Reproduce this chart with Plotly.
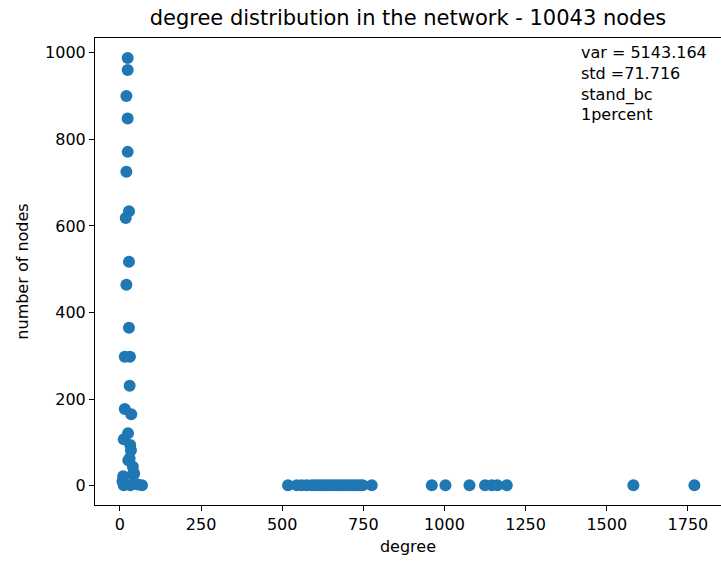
import plotly.graph_objects as go

# degree values (x) and number of nodes with that degree (y)
low_degree = [24, 24, 20, 24, 24, 20, 28, 18, 28, 20, 28, 15, 31, 30, 15, 35,
              25, 12, 32, 34, 26, 30, 40, 44, 10, 38, 12, 32, 68, 55, 45, 8]
low_count = [988, 960, 900, 848, 771, 725, 634, 618, 517, 464, 365, 298, 298, 231, 177, 165,
             121, 107, 94, 82, 59, 63, 44, 28, 22, 25, 1, 1, 1, 3, 6, 10]
high_degree = [518, 545, 560, 575, 590, 600, 610, 620, 630, 640, 650, 660, 670, 680,
               690, 700, 710, 720, 730, 740, 748, 776, 961, 1003, 1077, 1125, 1146,
               1163, 1192, 1582, 1770]
high_count = [1] * len(high_degree)

degree = low_degree + high_degree
count = low_count + high_count

title_text = "degree distribution in the network - 10043 nodes"
info_lines = ["var = 5143.164", "std =71.716", "stand_bc", "1percent"]
x_ticks = [0, 250, 500, 750, 1000, 1250, 1500, 1750]
y_ticks = [0, 200, 400, 600, 800, 1000]

FONT = "DejaVu Sans"

fig = go.Figure()
fig.add_trace(go.Scatter(
    x=degree, y=count, mode="markers",
    marker=dict(color="#1f77b4", size=12, line=dict(width=0)),
    showlegend=False,
))

fig.update_layout(
    width=721, height=562,
    margin=dict(l=95, r=0, t=38, b=57, pad=0),
    paper_bgcolor="white", plot_bgcolor="white",
    font=dict(family=FONT, color="black", size=16),
    title=dict(text=title_text, x=0.5, xref="paper", xanchor="center",
               y=1 - 18 / 562, yref="container", yanchor="middle",
               font=dict(size=21, family=FONT, color="black")),
    xaxis=dict(range=[-76.7, 1852], tickvals=x_ticks, ticks="outside", ticklen=5,
               tickcolor="black", showline=True, linecolor="black", linewidth=1,
               mirror=True, showgrid=False, zeroline=False,
               title=dict(text="degree", font=dict(size=16), standoff=7),
               tickfont=dict(size=16)),
    yaxis=dict(range=[-44.6, 1034], tickvals=y_ticks, ticks="outside", ticklen=5,
               tickcolor="black", showline=True, linecolor="black", linewidth=1,
               mirror=False, showgrid=False, zeroline=False,
               title=dict(text="number of nodes", font=dict(size=16), standoff=12),
               tickfont=dict(size=16)),
)

fig.add_annotation(
    text="<br>".join(info_lines), xref="paper", yref="paper",
    x=(579 - 95) / 626, y=1 - (41 - 38) / 467, xanchor="left", yanchor="top",
    align="left", showarrow=False, font=dict(size=16, family=FONT, color="black"),
)

fig.write_html("out.html")
